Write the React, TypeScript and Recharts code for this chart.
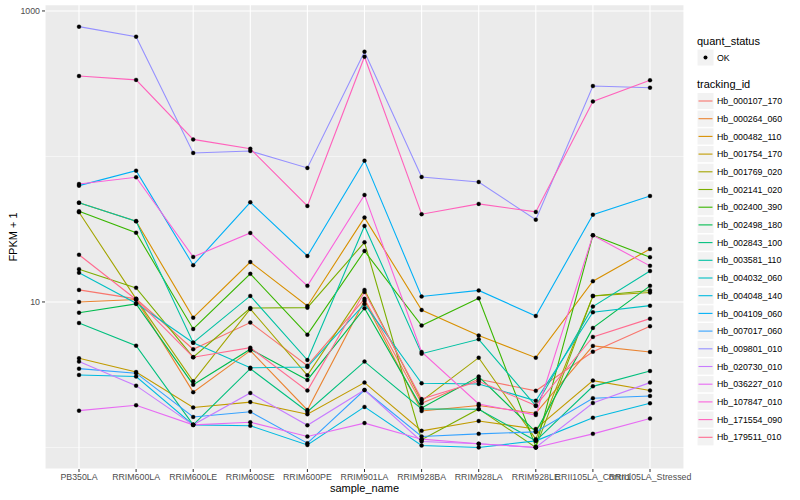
import React from 'react';
import { LineChart, Line, XAxis, YAxis, CartesianGrid } from 'recharts';

const FONT = '"Liberation Sans", Arial, Helvetica, sans-serif';

const samples = [
  'PB350LA', 'RRIM600LA', 'RRIM600LE', 'RRIM600SE', 'RRIM600PE', 'RRIM901LA',
  'RRIM928BA', 'RRIM928LA', 'RRIM928LE', 'RRII105LA_Control', 'RRII105LA_Stressed',
];

// FPKM + 1 per sample
const hb000107_170 = [12.1, 10.5, 4.73, 7.21, 3.65, 10.5, 2.01, 2.94, 2.45, 4.55, 6.81];
const hb000264_060 = [10.0, 10.4, 2.40, 4.63, 1.81, 10.2, 1.78, 1.94, 1.72, 4.99, 4.53];
const hb000482_110 = [48.1, 35.9, 7.80, 18.8, 9.39, 38.0, 8.81, 5.87, 4.14, 13.9, 23.1];
const hb001754_170 = [4.10, 3.30, 1.88, 2.05, 1.69, 2.79, 1.30, 1.52, 1.34, 2.88, 2.46];
const hb001769_020 = [41.4, 10.5, 2.85, 8.95, 3.13, 12.1, 2.09, 4.14, 1.14, 11.0, 11.6];
const hb002141_020 = [16.8, 12.5, 4.17, 9.09, 9.14, 25.7, 1.13, 1.84, 1.0, 11.0, 12.0];
const hb002400_390 = [42.0, 29.9, 6.52, 15.6, 5.96, 22.4, 6.88, 10.6, 1.01, 28.7, 20.3];
const hb002498_180 = [8.44, 9.69, 2.70, 4.73, 2.91, 9.05, 1.87, 3.07, 1.28, 6.63, 12.9];
const hb002843_100 = [7.17, 5.01, 1.43, 3.48, 1.76, 3.89, 1.84, 1.83, 1.11, 2.63, 3.35];
const hb003581_110 = [48.1, 35.9, 5.25, 11.0, 3.99, 33.3, 4.41, 5.54, 1.93, 9.29, 16.3];
const hb004032_060 = [15.9, 9.8, 5.25, 3.53, 3.57, 9.69, 2.76, 2.73, 2.09, 8.50, 9.43];
const hb004048_140 = [3.15, 3.07, 1.43, 1.41, 1.04, 1.90, 1.03, 1.0, 1.11, 1.60, 2.01];
const hb004109_060 = [63.0, 79.9, 17.9, 48.4, 20.7, 93.6, 10.9, 12.0, 8.01, 39.8, 53.5];
const hb007017_060 = [3.48, 3.24, 1.62, 1.76, 1.07, 2.48, 1.19, 1.24, 1.28, 2.18, 2.26];
const hb009801_010 = [780, 666, 105.7, 109, 83.4, 525, 72.3, 66.8, 36.8, 305, 297];
const hb020730_010 = [3.89, 2.66, 1.43, 2.37, 1.42, 2.48, 1.10, 1.06, 1.0, 2.02, 2.79];
const hb036227_010 = [1.79, 1.95, 1.43, 1.49, 1.19, 1.47, 1.14, 1.06, 1.0, 1.24, 1.58];
const hb107847_010 = [64.7, 71.9, 20.4, 29.8, 12.9, 54.4, 4.53, 1.99, 1.67, 28.7, 17.7];
const hb171554_090 = [357, 336, 131, 113, 45.7, 485, 40.1, 47.2, 41.6, 239, 334];
const hb179511_010 = [21.1, 10.4, 4.17, 4.85, 2.46, 11.7, 2.15, 2.85, 1.94, 5.75, 7.68];

const series = [
  { id: 'Hb_000107_170', color: '#F8766D', values: hb000107_170 },
  { id: 'Hb_000264_060', color: '#EA8331', values: hb000264_060 },
  { id: 'Hb_000482_110', color: '#D89000', values: hb000482_110 },
  { id: 'Hb_001754_170', color: '#C09B00', values: hb001754_170 },
  { id: 'Hb_001769_020', color: '#A3A500', values: hb001769_020 },
  { id: 'Hb_002141_020', color: '#7CAE00', values: hb002141_020 },
  { id: 'Hb_002400_390', color: '#39B600', values: hb002400_390 },
  { id: 'Hb_002498_180', color: '#00BB4E', values: hb002498_180 },
  { id: 'Hb_002843_100', color: '#00BF7D', values: hb002843_100 },
  { id: 'Hb_003581_110', color: '#00C1A3', values: hb003581_110 },
  { id: 'Hb_004032_060', color: '#00BFC4', values: hb004032_060 },
  { id: 'Hb_004048_140', color: '#00BAE0', values: hb004048_140 },
  { id: 'Hb_004109_060', color: '#00B0F6', values: hb004109_060 },
  { id: 'Hb_007017_060', color: '#35A2FF', values: hb007017_060 },
  { id: 'Hb_009801_010', color: '#9590FF', values: hb009801_010 },
  { id: 'Hb_020730_010', color: '#C77CFF', values: hb020730_010 },
  { id: 'Hb_036227_010', color: '#E76BF3', values: hb036227_010 },
  { id: 'Hb_107847_010', color: '#FA62DB', values: hb107847_010 },
  { id: 'Hb_171554_090', color: '#FF62BC', values: hb171554_090 },
  { id: 'Hb_179511_010', color: '#FF6C90', values: hb179511_010 },
];

const yTicks = [1, 10, 100, 1000];
const labelledTicks = [10, 1000];

const data = samples.map((s, i) => {
  const row: any = { sample_name: s };
  series.forEach(sr => { row[sr.id] = sr.values[i]; });
  return row;
});

// only 10 and 1000 get a label and a tick mark, like ggplot's major breaks
function YTick(props: any) {
  const { x, y, payload } = props;
  if (!labelledTicks.includes(payload.value)) return null;
  return (
    <g>
      <line x1={x + 2} x2={x + 5} y1={y} y2={y} stroke="#333333" strokeWidth={1} />
      <text x={x} y={y} dy="0.32em" textAnchor="end" fontSize={8.8} fill="#4D4D4D" fontFamily={FONT}>
        {payload.value}
      </text>
    </g>
  );
}

// minor lines (1, 100) thinner than major ones
function HLine(props: any) {
  const { x1, x2, y1, y2, index } = props;
  return <line x1={x1} x2={x2} y1={y1} y2={y2} stroke="#FFFFFF" strokeWidth={index % 2 === 0 ? 0.55 : 1.1} />;
}

function LegendBox() {
  const top = 101;
  const step = 17.7;
  return (
    <svg width={800} height={500} style={{ position: 'absolute', left: 0, top: 0, pointerEvents: 'none' }}>
      <text x={17} y={237} transform="rotate(-90 17 237)" textAnchor="middle" fontSize={11} fill="#000" fontFamily={FONT}>FPKM + 1</text>
      <text x={364.5} y={492} textAnchor="middle" fontSize={11} fill="#000" fontFamily={FONT}>sample_name</text>

      <text x={697} y={45} fontSize={11} fill="#000" fontFamily={FONT}>quant_status</text>
      <rect x={697} y={49} width={17} height={17} fill="#F2F2F2" stroke="#FFFFFF" />
      <circle cx={705.5} cy={57.5} r={2} fill="#000" />
      <text x={717} y={60.7} fontSize={8.8} fill="#000" fontFamily={FONT}>OK</text>

      <text x={697} y={88} fontSize={11} fill="#000" fontFamily={FONT}>tracking_id</text>
      {series.map((s, i) => {
        const cy = top + i * step;
        return (
          <g key={s.id}>
            <rect x={697} y={cy - 8.6} width={17} height={17.2} fill="#F2F2F2" stroke="#FFFFFF" />
            <line x1={698.5} x2={712.5} y1={cy} y2={cy} stroke={s.color} strokeWidth={1.1} />
            <text x={717} y={cy + 3.1} fontSize={8.8} fill="#000" fontFamily={FONT}>{s.id}</text>
          </g>
        );
      })}
    </svg>
  );
}

export default function App() {
  return (
    <div style={{ position: 'absolute', left: 0, top: 0, width: 800, height: 500, background: '#fff', fontFamily: FONT }}>
      <LineChart width={800} height={500} data={data} margin={{ top: 5, right: 116, bottom: 0, left: 0 }}>
        <CartesianGrid fill="#EBEBEB" stroke="#FFFFFF" strokeWidth={1.1} horizontal={HLine} />
        <XAxis
          dataKey="sample_name"
          interval={0}
          padding={{ left: 34, right: 34 }}
          height={31}
          tickSize={3}
          axisLine={false}
          tickLine={{ stroke: '#333333' }}
          tick={{ fontSize: 8.8, fill: '#4D4D4D', fontFamily: FONT }}
        />
        <YAxis
          type="number"
          scale="log"
          domain={[0.711, 1099]}
          allowDataOverflow
          ticks={yTicks}
          width={45}
          tickSize={3}
          tickMargin={2}
          axisLine={false}
          tickLine={false}
          tick={<YTick />}
        />
        {series.map(s => (
          <Line
            key={s.id}
            dataKey={s.id}
            stroke={s.color}
            strokeWidth={1.1}
            dot={false}
            activeDot={false}
            isAnimationActive={false}
          />
        ))}
        {series.map(s => (
          <Line
            key={s.id + '_pts'}
            dataKey={s.id}
            stroke="none"
            dot={{ r: 2, fill: '#000', stroke: '#000', strokeWidth: 0.3 }}
            activeDot={false}
            legendType="none"
            isAnimationActive={false}
          />
        ))}
      </LineChart>
      <LegendBox />
    </div>
  );
}
